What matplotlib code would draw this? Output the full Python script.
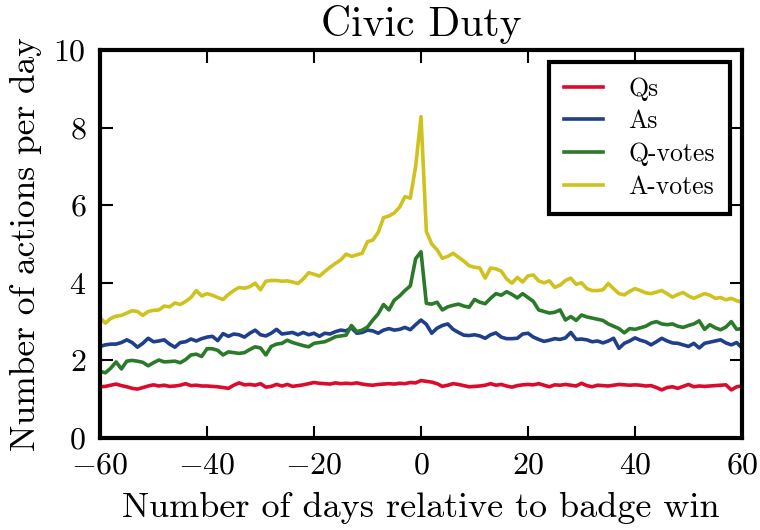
import numpy as np
import matplotlib
matplotlib.use("Agg")
import matplotlib.pyplot as plt

# days relative to the badge win
days = np.arange(-60, 61)

qs = [1.32, 1.33, 1.36, 1.39, 1.35, 1.32, 1.28, 1.26, 1.30, 1.34,
      1.37, 1.34, 1.36, 1.33, 1.34, 1.36, 1.40, 1.35, 1.36, 1.34,
      1.34, 1.33, 1.32, 1.30, 1.28, 1.36, 1.42, 1.37, 1.38, 1.36,
      1.40, 1.31, 1.33, 1.38, 1.34, 1.38, 1.33, 1.35, 1.37, 1.40,
      1.43, 1.41, 1.40, 1.39, 1.42, 1.40, 1.41, 1.40, 1.42, 1.39,
      1.37, 1.36, 1.38, 1.39, 1.40, 1.39, 1.41, 1.40, 1.43, 1.42,
      1.48,
      1.46, 1.44, 1.40, 1.33, 1.36, 1.40, 1.38, 1.35, 1.32, 1.33,
      1.34, 1.36, 1.40, 1.36, 1.38, 1.34, 1.31, 1.35, 1.37, 1.38,
      1.37, 1.40, 1.36, 1.32, 1.37, 1.36, 1.38, 1.36, 1.34, 1.41,
      1.35, 1.32, 1.36, 1.35, 1.34, 1.36, 1.38, 1.37, 1.36, 1.37,
      1.36, 1.34, 1.35, 1.30, 1.24, 1.30, 1.32, 1.28, 1.33, 1.38,
      1.32, 1.34, 1.33, 1.34, 1.35, 1.36, 1.37, 1.24, 1.32, 1.34]

answers = [2.36, 2.40, 2.42, 2.42, 2.46, 2.53, 2.46, 2.34, 2.44, 2.57,
           2.48, 2.50, 2.53, 2.42, 2.34, 2.46, 2.48, 2.55, 2.50, 2.56,
           2.60, 2.62, 2.51, 2.69, 2.62, 2.68, 2.66, 2.60, 2.70, 2.78,
           2.66, 2.63, 2.70, 2.80, 2.68, 2.70, 2.72, 2.66, 2.72, 2.66,
           2.70, 2.62, 2.70, 2.68, 2.74, 2.78, 2.76, 2.84, 2.70, 2.72,
           2.78, 2.76, 2.70, 2.78, 2.82, 2.78, 2.80, 2.85, 2.79, 2.92,
           3.04,
           2.93, 2.70, 2.83, 2.90, 2.94, 2.80, 2.72, 2.65, 2.64, 2.66,
           2.63, 2.57, 2.66, 2.71, 2.60, 2.56, 2.56, 2.57, 2.68, 2.70,
           2.60, 2.54, 2.49, 2.52, 2.56, 2.54, 2.58, 2.72, 2.54, 2.55,
           2.53, 2.48, 2.50, 2.45, 2.50, 2.57, 2.31, 2.44, 2.50, 2.58,
           2.52, 2.48, 2.40, 2.48, 2.57, 2.50, 2.45, 2.44, 2.40, 2.36,
           2.44, 2.32, 2.44, 2.47, 2.50, 2.53, 2.45, 2.40, 2.46, 2.32]

q_votes = [1.72, 1.68, 1.80, 1.96, 1.78, 1.98, 2.00, 1.98, 1.95, 1.86,
           1.94, 2.01, 1.96, 1.97, 1.98, 1.94, 2.02, 2.14, 2.16, 2.10,
           2.30, 2.30, 2.26, 2.14, 2.22, 2.20, 2.18, 2.20, 2.28, 2.35,
           2.32, 2.14, 2.36, 2.42, 2.44, 2.52, 2.46, 2.42, 2.38, 2.35,
           2.44, 2.46, 2.48, 2.54, 2.61, 2.63, 2.65, 2.90, 2.74, 2.78,
           2.86, 3.04, 3.20, 3.44, 3.30, 3.55, 3.66, 3.80, 3.92, 4.62,
           4.80,
           3.47, 3.45, 3.50, 3.30, 3.38, 3.42, 3.45, 3.40, 3.37, 3.57,
           3.50, 3.46, 3.60, 3.72, 3.68, 3.77, 3.70, 3.61, 3.72, 3.62,
           3.52, 3.30, 3.26, 3.22, 3.24, 3.30, 3.04, 3.13, 3.03, 3.17,
           3.12, 3.09, 3.06, 3.03, 2.94, 2.88, 2.82, 2.71, 2.82, 2.80,
           2.84, 2.88, 2.96, 3.00, 2.94, 2.92, 2.94, 2.88, 2.85, 2.90,
           2.94, 3.02, 2.80, 2.92, 2.84, 2.79, 2.86, 3.00, 2.80, 2.82]

a_votes = [3.10, 2.96, 3.08, 3.14, 3.16, 3.22, 3.28, 3.26, 3.16, 3.26,
           3.29, 3.30, 3.40, 3.38, 3.48, 3.44, 3.52, 3.62, 3.80, 3.66,
           3.72, 3.68, 3.62, 3.57, 3.70, 3.80, 3.88, 3.86, 3.90, 3.99,
           3.82, 4.04, 4.06, 4.06, 4.04, 4.05, 4.02, 3.98, 4.10, 4.26,
           4.22, 4.17, 4.29, 4.40, 4.50, 4.59, 4.74, 4.68, 4.72, 4.76,
           5.06, 5.10, 5.30, 5.68, 5.72, 5.80, 5.95, 6.22, 6.18, 7.00,
           8.28,
           5.32, 5.00, 4.85, 4.63, 4.68, 4.76, 4.66, 4.56, 4.44, 4.40,
           4.38, 4.12, 4.38, 4.36, 4.30, 4.10, 3.99, 4.14, 4.02, 4.18,
           4.20, 4.05, 4.00, 4.05, 3.88, 3.94, 4.06, 4.12, 3.96, 4.00,
           3.85, 3.80, 3.80, 3.82, 3.98, 3.85, 3.72, 3.69, 3.78, 3.85,
           3.80, 3.74, 3.72, 3.76, 3.80, 3.72, 3.63, 3.70, 3.75, 3.66,
           3.60, 3.66, 3.72, 3.68, 3.60, 3.62, 3.56, 3.60, 3.54, 3.50]

labels = ["Qs", "As", "Q-votes", "A-votes"]
colors = ["#dc0a2c", "#1f3e8c", "#2a7a2a", "#d0c21e"]

plt.rcParams["font.family"] = "cmr10"
plt.rcParams["mathtext.fontset"] = "cm"
plt.rcParams["axes.formatter.use_mathtext"] = True

fig = plt.figure(figsize=(7.6, 5.3), dpi=100)
ax = fig.add_axes([0.1316, 0.1736, 0.8447, 0.7321])

for series, lab, col in zip([qs, answers, q_votes, a_votes], labels, colors):
    ax.plot(days, series, color=col, lw=2.6, label=lab)

ax.set_xlim(-60, 60)
ax.set_ylim(0, 10)
ax.set_xticks(range(-60, 61, 20))
ax.set_yticks(range(0, 11, 2))

for s in ax.spines.values():
    s.set_linewidth(3)
ax.tick_params(direction="in", length=9, width=1.5, top=True, right=True,
               labelsize=23)
ax.tick_params(axis="y", pad=10)
ax.tick_params(axis="x", pad=10)

ax.set_title("Civic Duty", fontsize=30, pad=10)
ax.set_xlabel("Number of days relative to badge win", fontsize=26, labelpad=9)
ax.set_ylabel("Number of actions per day", fontsize=25.5, labelpad=8)

leg = ax.legend(loc="upper right", fontsize=18.5, fancybox=False,
                framealpha=1, edgecolor="black", handlelength=1.5,
                handletextpad=1.0, borderpad=0.6, labelspacing=0.35,
                borderaxespad=0.45)
leg.get_frame().set_linewidth(3)

fig.savefig("out.png", dpi=100)
